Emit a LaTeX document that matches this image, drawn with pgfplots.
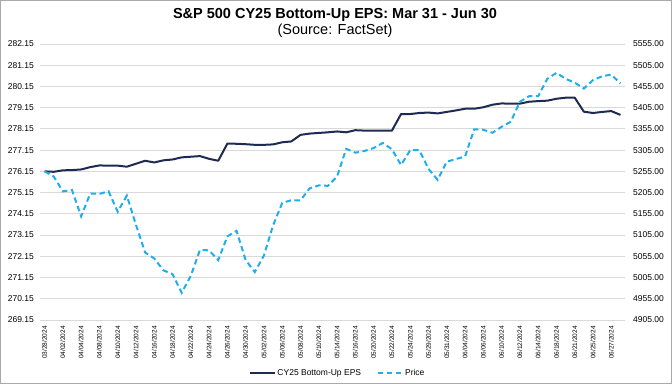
\documentclass[border=0pt]{standalone}
\usepackage{fontspec}
\setmainfont{Liberation Sans}
\usepackage{pgfplots}
\pgfplotsset{compat=1.18}
\usepackage{pgfplotstable}
\definecolor{epscol}{RGB}{31,42,84}
\definecolor{pricecol}{RGB}{30,174,236}
\definecolor{gridcol}{RGB}{217,217,217}
\definecolor{bordercol}{RGB}{170,170,170}

\pgfplotstableread{
x eps price
0 276.15 5255
1 276.13 5243
2 276.20 5208
3 276.21 5211
4 276.24 5149
5 276.35 5203
6 276.43 5202
7 276.42 5208
8 276.42 5160
9 276.37 5198
10 276.51 5129
11 276.65 5064
12 276.57 5050
13 276.67 5022
14 276.71 5013
15 276.81 4969
16 276.84 5009
17 276.87 5070
18 276.74 5069
19 276.65 5046
20 277.46 5102
21 277.45 5115
22 277.43 5046
23 277.40 5018
24 277.40 5057
25 277.42 5128
26 277.52 5181
27 277.56 5187
28 277.87 5187
29 277.93 5215
30 277.96 5222
31 277.99 5221
32 278.03 5243
33 277.99 5308
34 278.09 5299
35 278.07 5303
36 278.07 5310
37 278.07 5322
38 278.07 5307
39 278.85 5270
40 278.85 5305
41 278.90 5305
42 278.92 5261
43 278.88 5235
44 278.95 5278
45 279.02 5284
46 279.10 5290
47 279.10 5354
48 279.17 5353
49 279.29 5346
50 279.35 5360
51 279.34 5372
52 279.34 5419
53 279.43 5432
54 279.46 5432
55 279.48 5473
56 279.57 5487
57 279.62 5473
58 279.62 5464
59 278.96 5450
60 278.90 5470
61 278.95 5479
62 278.99 5483
63 278.81 5462
}\datatable

\begin{document}
\begin{tikzpicture}
\pgfplotsset{
  common/.style={
    scale only axis, width=585bp, height=276bp,
    xmin=-0.5, xmax=63.5,
    major tick length=0pt, minor tick length=0pt,
    axis line style={draw=none},
    /pgf/number format/assume math mode=true,
    /pgf/number format/fixed,
    /pgf/number format/fixed zerofill,
    /pgf/number format/precision=2,
    /pgf/number format/1000 sep={},
    yticklabel style={font=\fontsize{8.5bp}{10bp}\selectfont, inner sep=0pt},
  },
  epsline/.style={epscol, line width=2bp, line join=round},
  priceline/.style={pricecol, line width=2bp, dash pattern=on 5.5bp off 3.5bp},
}
\begin{axis}[common,
  ymin=269.15, ymax=282.15,
  ytick={269.15,270.15,271.15,272.15,273.15,274.15,275.15,276.15,277.15,278.15,279.15,280.15,281.15,282.15},
  ymajorgrids, grid style={gridcol, line width=0.9bp},
  yticklabel style={anchor=east},
  yticklabel shift=6bp,
  xtick={0,2,...,62},
  xticklabels={03/28/2024,04/02/2024,04/04/2024,04/08/2024,04/10/2024,04/12/2024,04/16/2024,04/18/2024,04/22/2024,04/24/2024,04/26/2024,04/30/2024,05/02/2024,05/06/2024,05/08/2024,05/10/2024,05/14/2024,05/16/2024,05/20/2024,05/22/2024,05/24/2024,05/29/2024,05/31/2024,06/04/2024,06/06/2024,06/10/2024,06/12/2024,06/14/2024,06/18/2024,06/21/2024,06/25/2024,06/27/2024},
  xticklabel style={rotate=90, anchor=east, inner sep=0pt, font=\fontsize{6.5bp}{7.5bp}\selectfont},
  xticklabel shift=6bp,
]
\addplot[epsline] table[x=x, y=eps] {\datatable};
\end{axis}
\begin{axis}[common,
  ymin=4905, ymax=5555,
  ytick={4905,4955,...,5555},
  axis y line*=right, axis x line=none,
  yticklabel style={anchor=west},
  yticklabel shift=8bp,
  legend style={at={(0.5085,-0.192)}, anchor=center, draw=none, fill=none,
    font=\fontsize{8.5bp}{10bp}\selectfont, legend columns=2,
    /tikz/every even column/.append style={column sep=14bp},
    nodes={inner sep=1.5bp}},
  legend image code/.code={\draw[#1] (0bp,0bp) -- (25bp,0bp);},
]
\addlegendimage{epsline}
\addlegendentry{CY25 Bottom-Up EPS}
\addplot[priceline] table[x=x, y=price] {\datatable};
\addlegendentry{Price}
\end{axis}
\node[font=\bfseries\fontsize{14.5bp}{17bp}\selectfont] at ([xshift=2.5bp,yshift=29bp]current axis.north) {S\&P 500 CY25 Bottom-Up EPS: Mar 31 - Jun 30};
\node[font=\fontsize{14.5bp}{17bp}\selectfont] at ([xshift=2.5bp,yshift=13.5bp]current axis.north) {(Source: FactSet)};
\pgfresetboundingbox
\draw[bordercol, line width=1bp] ([xshift=-39.5bp,yshift=-63.5bp]current axis.south west) rectangle ([xshift=46.5bp,yshift=43.5bp]current axis.north east);
\end{tikzpicture}
\end{document}
